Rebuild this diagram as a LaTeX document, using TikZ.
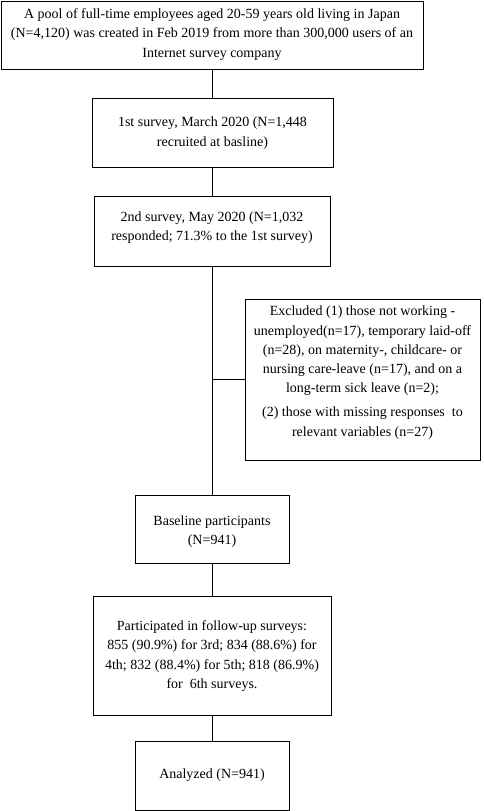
\documentclass[tikz,border=0pt]{standalone}
\usepackage{fontspec}
\setmainfont{Liberation Serif}
\begin{document}
\begin{tikzpicture}[x=1pt,y=-1pt,
  box/.style={draw, line width=0.8pt, inner sep=0pt, minimum width=#1},
  txt/.style={align=center, inner sep=0pt, font=\fontsize{14}{19.3}\selectfont},
  conn/.style={line width=0.8pt}]
\useasboundingbox (0,0) rectangle (484,811);
\node[box=422, minimum height=68] (b1) at (212,35) {};
\node[txt] (t1) at (212,34.5) {A pool of full-time employees aged 20-59 years old living in Japan\\(N=4,120) was created in Feb 2019 from more than 300,000 users of an\\Internet survey company};
\node[box=241, minimum height=69] (b2) at (212.5,132.5) {};
\node[txt] (t2) at (212.5,133) {1st survey, March 2020 (N=1,448\\recruited at basline)};
\node[box=236, minimum height=70] (b3) at (212,231) {};
\node[txt] (t3) at (212,228) {2nd survey, May 2020 (N=1,032\\responded; 71.3\% to the 1st survey)};
\node[box=235, minimum height=161] (b4) at (362.5,379.5) {};
\node[txt] (t4) at (362.5,372.5) {Excluded (1) those not working -\\unemployed(n=17), temporary laid-off\\(n=28), on maternity-, childcare- or\\nursing care-leave (n=17), and on a\\long-term sick leave (n=2);\\[4.5pt](2) those with missing responses\ \ to\\relevant variables (n=27)};
\node[box=154, minimum height=68] (b5) at (212,529) {};
\node[txt] (t5) at (212,531.5) {Baseline participants\\(N=941)};
\node[box=238, minimum height=119] (b6) at (212,655.5) {};
\node[txt] (t6) at (212,656) {Participated in follow-up surveys:\\855 (90.9\%) for 3rd; 834 (88.6\%) for\\4th; 832 (88.4\%) for 5th; 818 (86.9\%)\\for\ \ 6th surveys.};
\node[box=154, minimum height=69] (b7) at (212,775.5) {};
\node[txt] (t7) at (212,775) {Analyzed (N=941)};
\draw[conn] (b1.south -| 212,0) -- (b2.north -| 212,0);
\draw[conn] (b2.south -| 212,0) -- (b3.north -| 212,0);
\draw[conn] (b3.south -| 212,0) -- (b5.north -| 212,0);
\draw[conn] (b4.west) -- (b4.west -| 212,0);
\draw[conn] (b5.south) -- (b6.north);
\draw[conn] (b6.south) -- (b7.north);
\end{tikzpicture}
\end{document}
